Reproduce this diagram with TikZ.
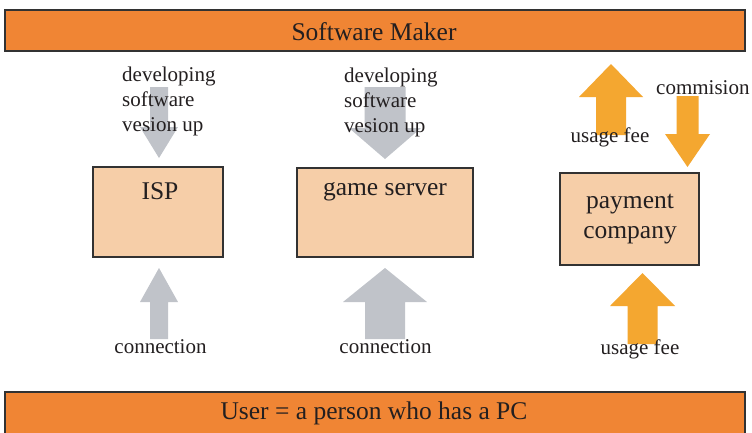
\documentclass[tikz,border=0pt]{standalone}
\usepackage{fontspec}
\setmainfont{Liberation Serif}
\definecolor{barorange}{RGB}{240,133,52}
\definecolor{peach}{RGB}{246,206,168}
\definecolor{arrgray}{RGB}{192,195,201}
\definecolor{arrorange}{RGB}{244,167,48}
\definecolor{ink}{RGB}{35,31,32}
\definecolor{edge}{RGB}{50,50,50}
% #1 colour, #2 cx, #3 tip y, #4 head base y, #5 shaft end y, #6 shaft half width, #7 head half width
\newcommand\blockarr[7]{%
  \fill[#1] (#2,#3) -- ({#2+#7},#4) -- ({#2+#6},#4) -- ({#2+#6},#5) -- ({#2-#6},#5) -- ({#2-#6},#4) -- ({#2-#7},#4) -- cycle;}
\begin{document}
\begin{tikzpicture}[x=1pt,y=-1pt,
  bar/.style={draw=edge, line width=1.5pt, fill=barorange, inner sep=0pt},
  box/.style={draw=edge, line width=1.5pt, fill=peach, inner sep=0pt},
  bigtxt/.style={text=ink, font=\fontsize{25.5}{30}\selectfont, inner sep=0pt},
  lbl/.style={text=ink, font=\fontsize{21}{25}\selectfont, inner sep=0pt, align=left}]
\useasboundingbox (0,0) rectangle (752,432);
\clip (0,0) rectangle (752,432);
\fill[white] (0,0) rectangle (752,432);
% bars
\node[bar, minimum width=740pt, minimum height=41pt] (maker) at (375,30.5) {};
\node[bigtxt] (makertxt) at (374,31.5) {Software Maker};
\node[bar, minimum width=740pt, minimum height=60pt, anchor=north] (user) at (375,391) {};
\node[bigtxt] (usertxt) at (374,413) {User = a person who has a PC};
% boxes
\node[box, minimum width=130pt, minimum height=90pt] (isp) at (158,212) {};
\node[bigtxt] (isptxt) at (160,191.5) {ISP};
\node[box, minimum width=176pt, minimum height=89pt] (gs) at (385,212.5) {};
\node[bigtxt] (gstxt) at (385,192) {game server};
\node[box, minimum width=139pt, minimum height=92pt] (pay) at (629.5,219) {};
\node[bigtxt, align=center] (paytxt) at (630,219) {payment\\company};
% arrows
\blockarr{arrgray}{159}{158}{127}{87}{9}{19}
\blockarr{arrgray}{159}{268}{302}{339}{9}{19}
\blockarr{arrgray}{385}{159}{128}{87}{20.5}{36}
\blockarr{arrgray}{385}{268}{302}{339}{20}{42}
\blockarr{arrorange}{611}{64}{97}{135}{15}{32}
\blockarr{arrorange}{687.5}{167}{134}{96}{11}{22.5}
\blockarr{arrorange}{642.5}{273}{306}{344}{15}{32.5}
% labels
\node[lbl, anchor=west] (ispdev) at (122,101) {developing\\software\\vesion up};
\node[lbl, anchor=west] (gsdev) at (344,102) {developing\\software\\vesion up};
\node[lbl] (ispcon) at (160.5,347) {connection};
\node[lbl] (gscon) at (385.5,347) {connection};
\node[lbl, anchor=west] (comm) at (656,88) {commision};
\node[lbl] (fee1) at (610,137) {usage fee};
\node[lbl] (fee2) at (640,349) {usage fee};
\end{tikzpicture}
\end{document}
